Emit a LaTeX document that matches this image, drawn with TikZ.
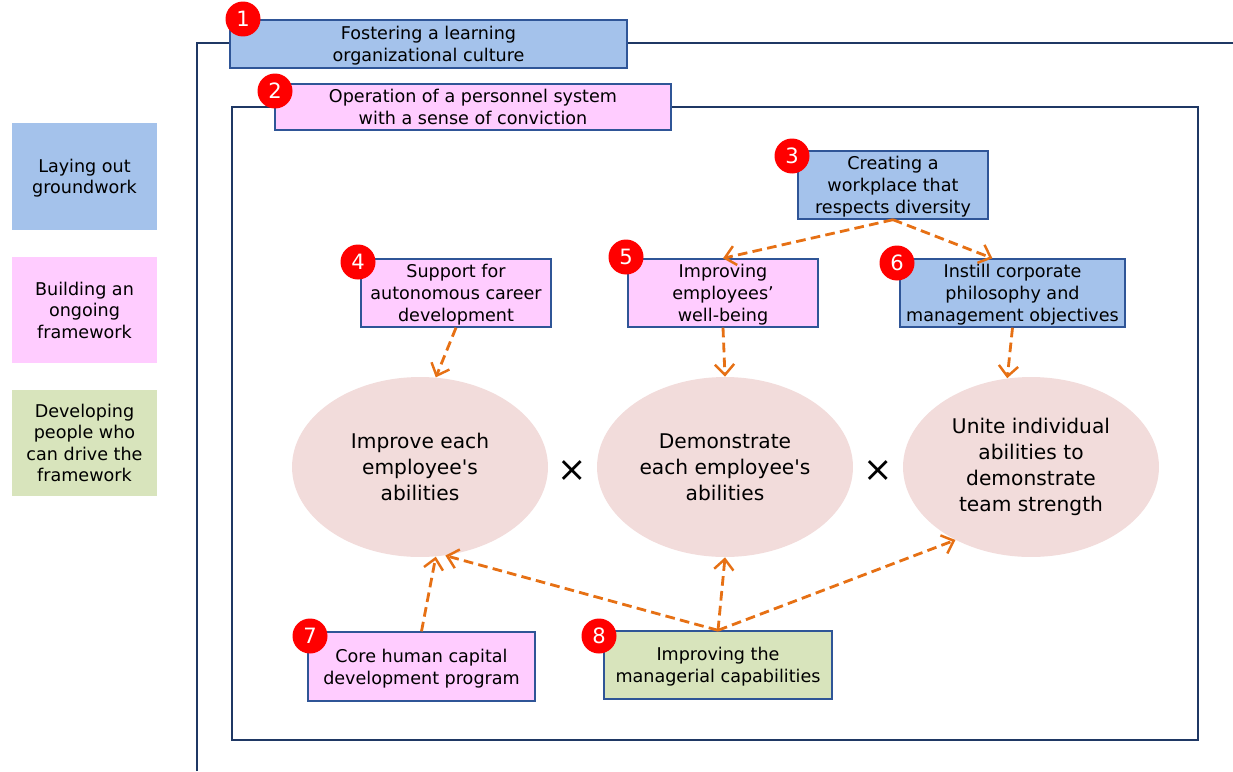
\documentclass[tikz,border=0pt]{standalone}
\usepackage{fontspec}
\setmainfont{DejaVu Sans}
\usetikzlibrary{arrows.meta,shapes.geometric}
\definecolor{fillblue}{RGB}{164,194,235}
\definecolor{fillpink}{RGB}{255,204,255}
\definecolor{fillgreen}{RGB}{216,228,188}
\definecolor{fillrose}{RGB}{242,220,219}
\definecolor{edgeblue}{RGB}{47,85,151}
\definecolor{framecol}{RGB}{31,56,100}
\definecolor{arrorange}{RGB}{230,112,20}
\begin{document}
\begin{tikzpicture}[x=0.02cm,y=-0.02cm,
  box/.style={draw=edgeblue,line width=0.8pt,align=center,inner sep=0pt,text depth=-1pt,
    font=\fontsize{10}{12.5}\selectfont},
  legend/.style={align=center,inner sep=0pt,minimum width=2.9cm,minimum height=2.14cm,
    text depth=-1pt,font=\fontsize{10}{12.2}\selectfont},
  goal/.style={ellipse,fill=fillrose,inner sep=0pt,minimum width=5.12cm,minimum height=3.6cm,
    align=center,font=\fontsize{11.5}{14.7}\selectfont},
  num/.style={circle,fill=red,text=white,inner sep=0pt,minimum size=0.7cm,
    font=\fontsize{12}{14}\selectfont},
  link/.style={draw=arrorange,line width=1.6pt,dash pattern=on 5.5pt off 3pt,
    -{Straight Barb[length=6pt,width=11pt,line width=1.4pt]}}]
\useasboundingbox (0,0) rectangle (1233,771);

% legend
\node[legend,fill=fillblue] (lg1) at (84.5,176.5) {Laying out\\groundwork};
\node[legend,fill=fillpink] (lg2) at (84.5,310) {Building an\\ongoing\\framework};
\node[legend,fill=fillgreen] (lg3) at (84.5,443) {Developing\\people who\\can drive the\\framework};

% frames
\draw[framecol,line width=0.9pt] (197,771) -- (197,43) -- (1233,43);
\draw[framecol,line width=0.9pt] (232,107) rectangle (1198,740);

% measures
\node[box,fill=fillblue,minimum width=7.94cm,minimum height=0.96cm] (b1) at (428.5,44)
  {Fostering a learning\\organizational culture};
\node[box,fill=fillpink,minimum width=7.92cm,minimum height=0.92cm] (b2) at (473,107)
  {Operation of a personnel system\\with a sense of conviction};
\node[box,fill=fillblue,minimum width=3.8cm,minimum height=1.36cm] (b3) at (893,185)
  {Creating a\\workplace that\\respects diversity};
\node[box,fill=fillpink,minimum width=3.8cm,minimum height=1.36cm] (b4) at (456,293)
  {Support for\\autonomous career\\development};
\node[box,fill=fillpink,minimum width=3.8cm,minimum height=1.36cm] (b5) at (723,293)
  {Improving\\employees’\\well-being};
\node[box,fill=fillblue,minimum width=4.5cm,minimum height=1.36cm] (b6) at (1012.5,293)
  {Instill corporate\\philosophy and\\management objectives};
\node[box,fill=fillpink,minimum width=4.54cm,minimum height=1.38cm] (b7) at (421.5,666.5)
  {Core human capital\\development program};
\node[box,fill=fillgreen,minimum width=4.56cm,minimum height=1.36cm] (b8) at (718,665)
  {Improving the\\managerial capabilities};

% numbers
\foreach \n/\x/\y in {1/243/19,2/275/91,3/792/156,4/358/262,5/626/257,6/897/263,7/310/636,8/599/636}
{
    \node[num] (n\n) at (\x,\y) {\n};
}

% goals
\node[goal] (e1) at (420,467) {Improve each\\employee\textquotesingle s\\abilities};
\node[goal] (e2) at (725,467) {Demonstrate\\each employee\textquotesingle s\\abilities};
\node[goal] (e3) at (1031,467) {Unite individual\\abilities to\\demonstrate\\team strength};
\node[font=\fontsize{20}{22}\selectfont] (x1) at (572,471) {×};
\node[font=\fontsize{20}{22}\selectfont] (x2) at (878,471) {×};

% links
\draw[link] (b3.south) -- (b5.north);
\draw[link] (b3.south) -- (b6.120);
\draw[link] (b4.south) -- (e1.80);
\draw[link] (b5.south) -- (e2.north);
\draw[link] (b6.south) -- (e3.105);
\draw[link] (b7.north) -- (e1.-80);
\draw[link] (b8.north) -- (e1.-74);
\draw[link] (b8.north) -- (e2.south);
\draw[link] (b8.north) -- (e3.224);

\end{tikzpicture}
\end{document}
